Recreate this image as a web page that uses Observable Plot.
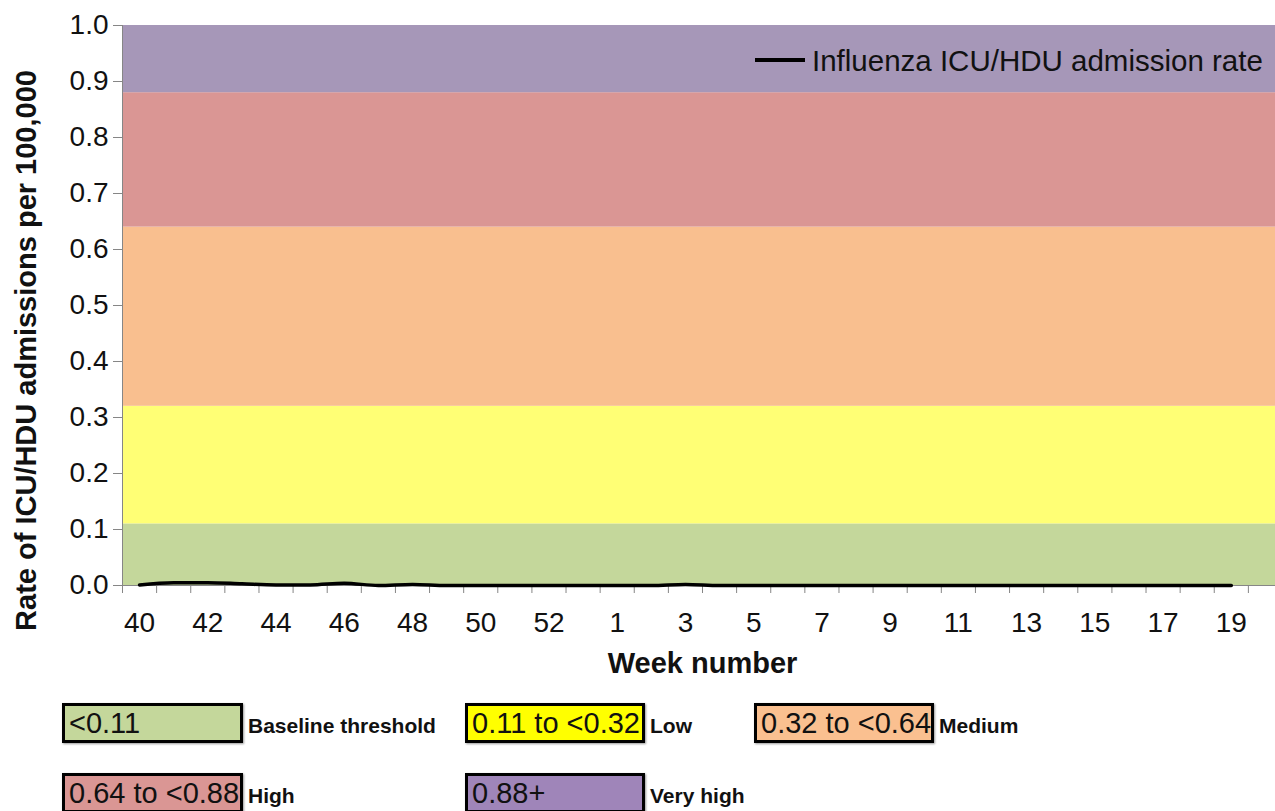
<!DOCTYPE html>
<html><head><meta charset="utf-8">
<script src="https://cdn.jsdelivr.net/npm/d3@7"></script>
<script src="https://cdn.jsdelivr.net/npm/@observablehq/plot@0.6"></script>
<style>
html,body{margin:0;padding:0;overflow:hidden;background:#fff;}
#wrap{position:relative;width:1275px;height:811px;overflow:hidden;font-family:"Liberation Sans",Arial,sans-serif;}
#chart{position:absolute;left:0;top:0;width:1282px;}
#chart svg{max-width:none !important;}
.abs{position:absolute;white-space:nowrap;}
.box{box-sizing:border-box;height:40px;border:3px solid #000;box-shadow:1px 1px 2px #999;font-size:29px;line-height:34px;padding-left:4px;color:#111;}
.lab{font-family:"Liberation Sans",Arial,sans-serif;font-weight:bold;font-size:21px;line-height:22px;color:#111;}
#toplegend{position:absolute;left:755px;top:46px;height:29px;font-size:29.5px;line-height:29px;white-space:nowrap;color:#111;}
#toplegend .sw{display:inline-block;width:50px;height:4px;background:#000;vertical-align:middle;margin-right:7px;position:relative;top:-3px;}
</style></head>
<body><div id="wrap"><div id="chart"></div><div id="toplegend"></div><div id="legend"></div></div>
<script>
// Week numbers (season weeks 40–53, then 1–20)
const weeks = [40,41,42,43,44,45,46,47,48,49,50,51,52,53,1,2,3,4,5,6,7,8,9,10,11,12,13,14,15,16,17,18,19,20];
// Influenza ICU/HDU admission rate per 100,000 (null = no data yet)
const rates = [0.001,0.005,0.005,0.003,0.001,0.001,0.004,0.0,0.002,0,0,0,0,0,0,0,0.002,0,0,0,0,0,0,0,0,0,0,0,0,0,0,0,0,null];
const xTickLabels = [40,42,44,46,48,50,52,1,3,5,7,9,11,13,15,17,19];
const yTicks = [0,0.1,0.2,0.3,0.4,0.5,0.6,0.7,0.8,0.9,1.0];
// Activity threshold bands
const bandLower = [0,0.11,0.32,0.64,0.88];
const bandUpper = [0.11,0.32,0.64,0.88,1.0];
const bandColors = ["#c4d79b","#ffff75","#f9bf8f","#da9694","#a697b8"];
const legendRanges = ["<0.11","0.11 to <0.32","0.32 to <0.64","0.64 to <0.88","0.88+"];
const legendNames = ["Baseline threshold","Low","Medium","High","Very high"];
const legendColors = ["#c4d79b","#ffff00","#fac090","#da9694","#9f85b9"];
const seriesName = "Influenza ICU/HDU admission rate";

const data = weeks.map((w,i)=>({pos:i+0.5, week:w, rate:rates[i]}));
const bands = bandLower.map((lo,i)=>({lo, hi:bandUpper[i], color:bandColors[i]}));

const chart = Plot.plot({
  width:1282, height:690,
  marginLeft:122, marginRight:0, marginTop:25, marginBottom:105,
  style:{fontFamily:"'Liberation Sans', Arial, sans-serif", fontSize:"28px", background:"transparent", color:"#111", maxWidth:"none"},
  x:{domain:[0, weeks.length]},
  y:{domain:[0, 1]},
  color:{type:"identity"},
  marks:[
    Plot.rect(bands,{y1:"lo", y2:"hi", fill:"color"}),
    Plot.frame({anchor:"left", stroke:"#868686"}),
    Plot.frame({anchor:"bottom", stroke:"#868686"}),
    Plot.axisY({ticks:yTicks, tickFormat:d3.format(".1f"), tickSize:9, tickPadding:5, stroke:"#868686", fill:"#111", fontSize:28, label:null}),
    Plot.axisX({ticks:d3.range(weeks.length+1), tickFormat:()=>"", tickSize:8, stroke:"#868686", label:null}),
    Plot.axisX({ticks:xTickLabels.map(w=>weeks.indexOf(w)+0.5), tickFormat:d=>weeks[Math.floor(d)], tickSize:0, tickPadding:27, fill:"#111", fontSize:28, label:null}),
    Plot.text(["Week number"],{frameAnchor:"bottom", dy:87, fontWeight:"bold", fontSize:29, fill:"#111"}),
    Plot.text(["Rate of ICU/HDU admissions per 100,000"],{frameAnchor:"left", textAnchor:"middle", rotate:-90, dx:-96, dy:45, fontWeight:"bold", fontSize:29, fill:"#111"}),
    Plot.line(data.filter(d=>d.rate!=null),{x:"pos", y:"rate", stroke:"#000", strokeWidth:3.5, curve:"monotone-x"})
  ]
});
chart.style.maxWidth = "none";
document.getElementById("chart").appendChild(chart);

// series legend (top right)
const tl = document.getElementById("toplegend");
tl.innerHTML = '<span class="sw"></span>' + seriesName;

// threshold legend below
const boxPos = [[62,703,181],[465,703,180],[754,703,180],[62,773,181],[465,773,180]];
const leg = document.getElementById("legend");
legendRanges.forEach((r,i)=>{
  const [x,y,w] = boxPos[i];
  const b = document.createElement("div");
  b.className="abs box"; b.style.left=x+"px"; b.style.top=y+"px"; b.style.width=w+"px";
  b.style.background=legendColors[i]; b.textContent=r;
  leg.appendChild(b);
  const l = document.createElement("div");
  l.className="abs lab"; l.style.left=(x+w+5)+"px"; l.style.top=(y+12)+"px";
  l.textContent=legendNames[i];
  leg.appendChild(l);
});
</script></body></html>
